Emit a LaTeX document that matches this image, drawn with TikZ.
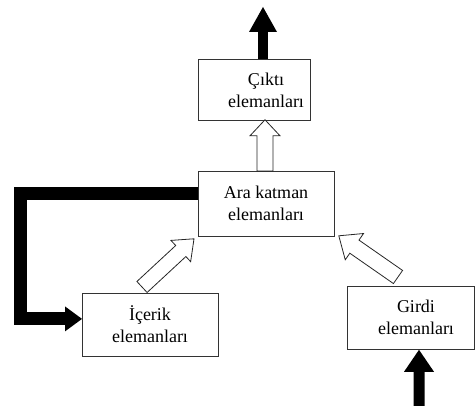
\documentclass[tikz,border=0pt]{standalone}
\usepackage{fontspec}
\setmainfont{Liberation Serif}
\usetikzlibrary{calc}

% Block arrow from #1 (tail) to #2 (tip):
% #3 half shaft width, #4 half head width, #5 head length, #6 style
\newcommand\blockarrow[6]{%
  \coordinate (bah) at ($(#2)!#5!(#1)$);
  \draw[#6] ($(#1)!#3!90:(#2)$) -- ($(bah)!#3!-90:(#1)$) -- ($(bah)!#4!-90:(#1)$)
    -- (#2) -- ($(bah)!#4!90:(#1)$) -- ($(bah)!#3!90:(#1)$) -- ($(#1)!#3!-90:(#2)$) -- cycle;
}

\tikzset{
  box/.style={draw=black!80, line width=0.8pt, fill=white, inner sep=0pt,
    anchor=north west},
  boxtext/.style={font=\rmfamily\fontsize{18}{22}\selectfont, align=center, inner sep=0pt},
  solidarrow/.style={fill=black, draw=none},
  hollowarrow/.style={fill=white, draw=black!85, line width=0.8pt, line join=miter},
  feedback/.style={line width=13pt, line join=miter, line cap=butt}
}

\begin{document}
\begin{tikzpicture}[x=1pt, y=-1pt]
\useasboundingbox (0,0) rectangle (475,406);

% layer boxes
\node[box, minimum width=112pt, minimum height=61pt] (out) at (198,59) {};
\node[box, minimum width=136pt, minimum height=65pt] (hid) at (198,171) {};
\node[box, minimum width=136pt, minimum height=63pt] (ctx) at (82,293) {};
\node[box, minimum width=127pt, minimum height=63pt] (inp) at (347,286) {};

% box texts
\node[boxtext] (outtext) at (266,90) {Çıktı\\elemanları};
\node[boxtext] (hidtext) at (266,203.5) {Ara katman\\elemanları};
\node[boxtext] (ctxtext) at (150,324.5) {İçerik\\elemanları};
\node[boxtext] (inptext) at (416,317) {Girdi\\elemanları};

% free ends of the outer arrows
\coordinate (outtip) at (263,7);
\coordinate (intail) at (419,406);

% solid output and input arrows
\coordinate (outtail) at ($(out.north west)+(65,0)$);
\blockarrow{outtail}{outtip}{4.8pt}{14pt}{25pt}{solidarrow}
\coordinate (intip) at ($(inp.south west)+(72,0)$);
\blockarrow{intail}{intip}{5.5pt}{15pt}{22pt}{solidarrow}

% hollow forward arrows
\coordinate (h2otail) at ($(hid.north west)+(67,0)$);
\coordinate (h2otip) at ($(out.south west)+(67,-1)$);
\blockarrow{h2otail}{h2otip}{8pt}{15pt}{16pt}{hollowarrow}

\coordinate (c2htail) at ($(ctx.north west)+(60,-6)$);
\coordinate (c2htip) at ($(hid.south west)+(-4,2)$);
\blockarrow{c2htail}{c2htip}{7.5pt}{14.5pt}{18pt}{hollowarrow}

\coordinate (i2htail) at ($(inp.north west)+(51,-9)$);
\coordinate (i2htip) at ($(hid.south east)+(4,-1)$);
\blockarrow{i2htail}{i2htip}{8pt}{16pt}{19pt}{hollowarrow}

% feedback from the hidden layer to the context layer
\coordinate (fbstart) at ($(hid.north west)+(0,22.5)$);
\coordinate (fbtip) at ($(ctx.west)+(0,-6)$);
\coordinate (fbbase) at ($(fbtip)+(-17,0)$);
\draw[feedback] (fbstart) -- (20,193.5) |- (fbbase);
\fill (fbtip) -- ($(fbbase)+(0,-12.5)$) -- ($(fbbase)+(0,12.5)$) -- cycle;
\end{tikzpicture}
\end{document}
